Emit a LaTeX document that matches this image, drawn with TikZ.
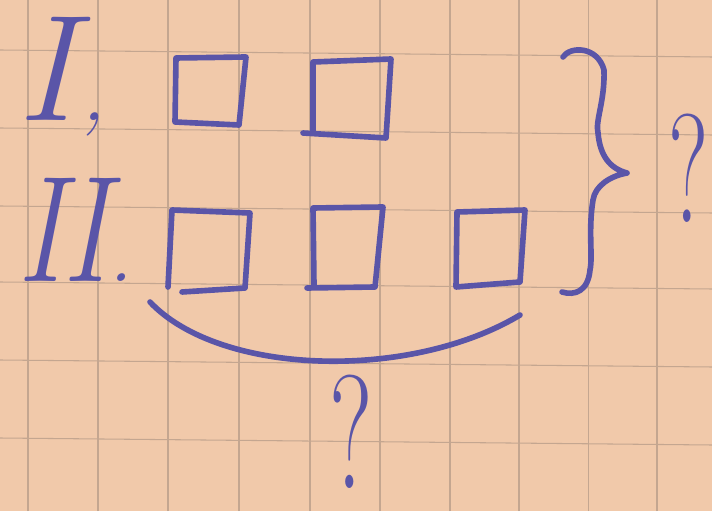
\documentclass[tikz,border=0pt]{standalone}
\usepackage{xcolor}
\usepackage{graphicx}
\usepackage{tikz}
\definecolor{SKPaper}{HTML}{F1C9AA}
\definecolor{SKGrid}{HTML}{C4A690}
\definecolor{SKInk}{HTML}{5A55A8}

\begin{document}
\begin{tikzpicture}[x=1cm,y=1cm]
\tikzset{
  ink/.style={SKInk,line width=3.2pt,line cap=round,line join=round},
  gridline/.style={SKGrid,line width=.6pt},
  hand/.style={SKInk,inner sep=0pt,font=\fontsize{86}{86}\selectfont\itshape},
  ask/.style={SKInk,inner sep=0pt,font=\fontsize{88}{88}\selectfont}
}
\path[use as bounding box] (0,0) rectangle (14.24,10.22);
\fill[SKPaper] (0,0) rectangle (14.24,10.22);
\draw[gridline] (0.56,0) -- (0.56,10.22);
\draw[gridline] (1.96,0) -- (1.96,10.22);
\draw[gridline] (3.36,0) -- (3.36,10.22);
\draw[gridline] (4.78,0) -- (4.78,10.22);
\draw[gridline] (6.20,0) -- (6.20,10.22);
\draw[gridline] (7.60,0) -- (7.60,10.22);
\draw[gridline] (9.00,0) -- (9.00,10.22);
\draw[gridline] (10.38,0) -- (10.38,10.22);
\draw[gridline] (11.77,0) -- (11.77,10.22);
\draw[gridline] (13.14,0) -- (13.14,10.22);
\draw[gridline] (0,9.22) -- (14.24,9.08);
\draw[gridline] (0,7.66) -- (14.24,7.52);
\draw[gridline] (0,6.10) -- (14.24,5.96);
\draw[gridline] (0,4.58) -- (14.24,4.44);
\draw[gridline] (0,3.02) -- (14.24,2.88);
\draw[gridline] (0,1.46) -- (14.24,1.32);
\node[hand,anchor=base west] (rowone) at (0.34,7.80) {I\kern.05em{\fontsize{46}{46}\selectfont,}};
\node[hand,anchor=base west] (rowtwo) at (0.34,4.58) {\scalebox{.8}[1]{II}{\fontsize{46}{46}\selectfont.}};
\draw[ink] (3.50,7.78) -- (3.52,9.06) -- (4.92,9.08) -- (4.78,7.72) -- cycle;
\draw[ink] (6.06,7.56) -- (7.72,7.46) -- (7.82,9.04) -- (6.26,8.98) -- (6.26,7.56);
\draw[ink] (3.36,4.48) -- (3.44,6.02) -- (5.00,5.96) -- (4.90,4.46) -- (3.64,4.38);
\draw[ink] (6.28,4.52) -- (6.26,6.06) -- (7.66,6.08) -- (7.50,4.48) -- (6.14,4.46);
\draw[ink] (9.12,4.48) -- (9.14,5.98) -- (10.50,6.02) -- (10.40,4.58) -- cycle;
\draw[ink] (11.26,9.08) .. controls (11.40,9.30) and (11.95,9.30) .. (12.08,8.82)
  .. controls (12.10,8.20) and (11.90,7.80) .. (11.96,7.56)
  .. controls (12.00,7.10) and (12.20,6.85) .. (12.54,6.76)
  .. controls (12.20,6.70) and (11.90,6.50) .. (11.86,6.22)
  .. controls (11.76,5.60) and (11.86,5.10) .. (11.80,4.82)
  .. controls (11.76,4.40) and (11.50,4.30) .. (11.24,4.38);
\draw[ink] (3.00,4.18) .. controls (4.40,2.70) and (8.20,2.60) .. (10.40,3.92);
\node[ask,anchor=base] (asktwo) at (13.78,5.76) {\scalebox{.6}[1]{?}};
\node[ask,font=\fontsize{92}{92}\selectfont,anchor=base] (askone) at (7.02,0.46) {\scalebox{.62}[1]{?}};
\end{tikzpicture}
\end{document}
